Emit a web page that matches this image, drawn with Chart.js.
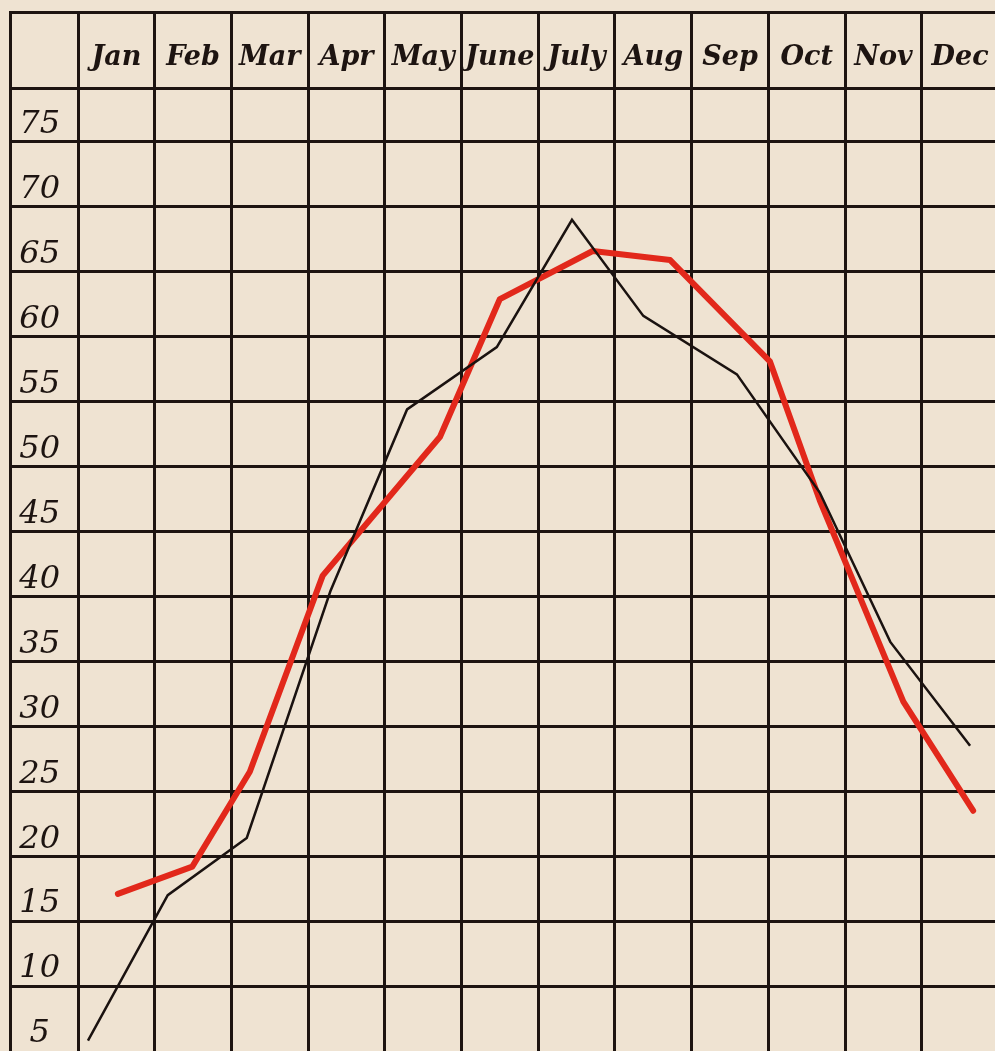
<!DOCTYPE html>
<html>
<head>
<meta charset="utf-8">
<script src="https://cdn.jsdelivr.net/npm/chart.js@4"></script>
<style>
  html, body { margin: 0; padding: 0; background: #efe3d2; }
  canvas { display: block; }
</style>
</head>
<body>
<canvas id="chart" width="995" height="1051"></canvas>
<script>
// month columns across the top
var months = ["Jan", "Feb", "Mar", "Apr", "May", "June", "July", "Aug", "Sep", "Oct", "Nov", "Dec"];
// temperature marks down the left column
var tempTicks = [5, 10, 15, 20, 25, 30, 35, 40, 45, 50, 55, 60, 65, 70, 75];

// thin black curve: position in months (0 = left edge of Jan) and temperature
var blackMonth = [0.13, 1.17, 2.20, 3.29, 4.29, 5.46, 6.44, 7.37, 8.59, 9.67, 10.59, 11.63];
var blackTemp  = [5.8, 17.0, 21.4, 40.4, 54.4, 59.2, 69.0, 61.6, 57.1, 48.0, 36.5, 28.5];

// heavy red curve
var redMonth = [0.52, 1.49, 2.24, 3.19, 4.72, 5.50, 6.71, 7.72, 9.02, 9.67, 10.76, 11.67];
var redTemp  = [17.1, 19.2, 26.5, 41.6, 52.3, 62.9, 66.6, 65.9, 58.1, 47.4, 31.9, 23.5];

var ink = '#1d1411';

function points(xs, ys) {
  return xs.map(function (x, i) { return { x: x, y: ys[i] }; });
}

// same snapping as chart.js uses for 3px grid lines
function snap(p) { return Math.round(p - 1.5) + 1.5; }

// the ruled table also runs through the header row and the number column
var tableFrame = {
  id: 'tableFrame',
  beforeDatasetsDraw: function (chart) {
    var ctx = chart.ctx, xs = chart.scales.x, ys = chart.scales.y, area = chart.chartArea;
    var top = snap(xs.top), left = snap(ys.left);
    ctx.save();
    ctx.strokeStyle = ink;
    ctx.lineWidth = 3;
    ctx.lineCap = 'square';
    ctx.beginPath();
    ctx.moveTo(left, chart.height);
    ctx.lineTo(left, top);
    ctx.lineTo(chart.width, top);
    ctx.moveTo(left, snap(area.top));
    ctx.lineTo(area.left, snap(area.top));
    xs.ticks.forEach(function (t) {
      var px = snap(xs.getPixelForValue(t.value));
      ctx.moveTo(px, top);
      ctx.lineTo(px, area.top);
    });
    ys.ticks.forEach(function (t) {
      if (t.value <= tempTicks[0]) return;
      var py = snap(ys.getPixelForValue(t.value));
      ctx.moveTo(left, py);
      ctx.lineTo(area.left, py);
    });
    ctx.stroke();
    ctx.restore();
  }
};

var ctx = document.getElementById('chart').getContext('2d');
var chart = new Chart(ctx, {
  type: 'line',
  data: {
    datasets: [{
      label: 'black',
      data: points(blackMonth, blackTemp),
      borderColor: '#1a1210',
      borderWidth: 2.5,
      pointRadius: 0,
      tension: 0,
      order: 0
    }, {
      label: 'red',
      data: points(redMonth, redTemp),
      borderColor: '#e2281b',
      borderWidth: 6,
      borderCapStyle: 'round',
      borderJoinStyle: 'round',
      pointRadius: 0,
      tension: 0,
      order: 1
    }]
  },
  options: {
    responsive: false,
    animation: false,
    devicePixelRatio: 1,
    layout: { padding: { left: 10, top: 12, right: 0, bottom: 0 } },
    plugins: { legend: { display: false }, tooltip: { enabled: false } },
    scales: {
      x: {
        type: 'linear',
        position: 'top',
        min: 0,
        max: 11.955,
        afterFit: function (s) { s.height = 76; s.paddingLeft = 0; s.paddingRight = 0; },
        ticks: {
          stepSize: 1,
          includeBounds: false,
          autoSkip: false,
          maxRotation: 0,
          labelOffset: 38.35,
          padding: 14,
          color: ink,
          font: { family: 'DejaVu Serif', style: 'italic', weight: 'bold', size: 27 },
          callback: function (v) { return months[v] || ''; }
        },
        grid: { color: ink, lineWidth: 3, drawTicks: false },
        border: { color: ink, width: 3 }
      },
      y: {
        type: 'linear',
        min: 5,
        max: 79.15,
        afterFit: function (s) { s.width = 68; s.paddingTop = 0; s.paddingBottom = 0; },
        ticks: {
          stepSize: 5,
          includeBounds: false,
          autoSkip: false,
          labelOffset: -17,
          crossAlign: 'center',
          padding: 18,
          color: ink,
          font: { family: 'DejaVu Serif', style: 'italic', size: 32 },
          callback: function (v) { return tempTicks.indexOf(v) >= 0 ? String(v) : ''; }
        },
        grid: {
          color: function (c) { return c.tick && c.tick.value <= tempTicks[0] ? 'rgba(0,0,0,0)' : ink; },
          lineWidth: 3,
          drawTicks: false
        },
        border: { color: ink, width: 3 }
      }
    }
  },
  plugins: [tableFrame]
});
</script>
</body>
</html>
